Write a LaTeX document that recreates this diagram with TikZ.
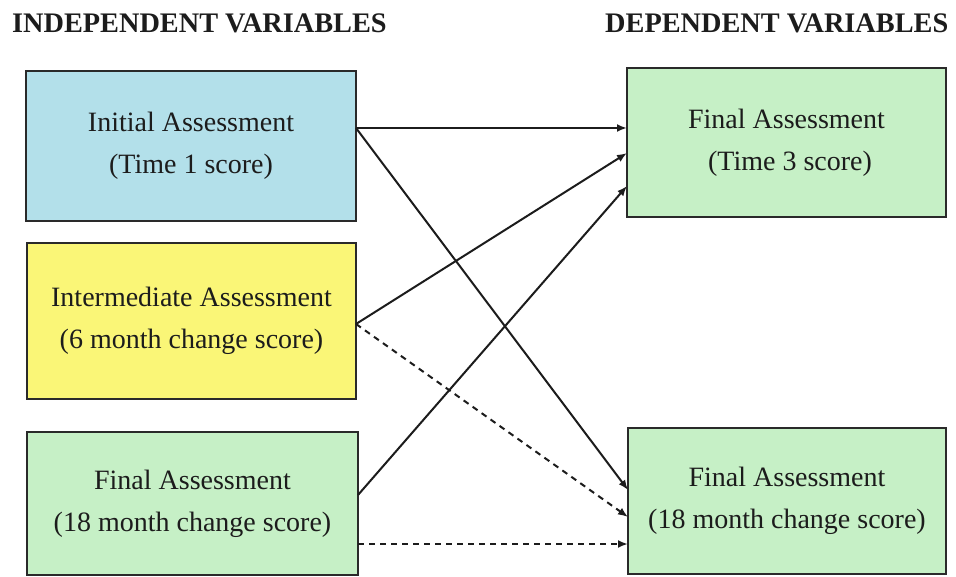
\documentclass[tikz,border=0pt]{standalone}
\usepackage{fontspec}
\setmainfont{Liberation Serif}
\usetikzlibrary{arrows.meta}
\definecolor{boxblue}{HTML}{B3E0EA}
\definecolor{boxyellow}{HTML}{FAF677}
\definecolor{boxgreen}{HTML}{C6F0C6}
\definecolor{edge}{HTML}{2A2A2A}
\definecolor{ink}{HTML}{1C1C1C}
\begin{document}
\begin{tikzpicture}[x=1pt,y=-1pt,
  varbox/.style={draw=edge, line width=1.8pt, inner sep=0pt, outer sep=0pt,
    align=center, text=ink, font=\fontsize{28}{42}\selectfont},
  heading/.style={inner sep=0pt, anchor=base west, text=ink,
    font=\fontsize{28.3}{34}\selectfont\bfseries},
  link/.style={draw=ink, line width=2pt, -{Latex[length=10pt,width=8pt]}},
  dashlink/.style={link, dash pattern=on 6pt off 5pt}]
\useasboundingbox (0,0) rectangle (956,577);

% column headings
\node[heading] (hin) at (12,33) {INDEPENDENT VARIABLES};
\node[heading] (hdep) at (605,33) {DEPENDENT VARIABLES};

% independent variables
\node[varbox, fill=boxblue, minimum width=330pt, minimum height=150pt] (b1) at (191,146)
  {Initial Assessment\\(Time 1 score)};
\node[varbox, fill=boxyellow, minimum width=329pt, minimum height=156pt] (b2) at (191.5,321)
  {Intermediate Assessment\\(6 month change score)};
\node[varbox, fill=boxgreen, minimum width=331pt, minimum height=143pt] (b3) at (192.5,503.5)
  {Final Assessment\\(18 month change score)};

% dependent variables
\node[varbox, fill=boxgreen, minimum width=319pt, minimum height=149pt] (r1) at (786.5,142.5)
  {Final Assessment\\\ (Time 3 score)};
\node[varbox, fill=boxgreen, minimum width=318pt, minimum height=146pt] (r2) at (787,501)
  {Final Assessment\\(18 month change score)};

% paths
\draw[link] (b1.east |- 0,128) -- (r1.west |- 0,128);
\draw[link] (b1.east |- 0,128) -- (r2.west |- 0,490);
\draw[link] (b2.east |- 0,324) -- (r1.west |- 0,153);
\draw[dashlink] (b2.east |- 0,324) -- (r2.west |- 0,517);
\draw[link] (b3.east |- 0,495) -- (r1.west |- 0,186);
\draw[dashlink] (b3.east |- 0,544) -- (r2.west |- 0,544);
\end{tikzpicture}
\end{document}
